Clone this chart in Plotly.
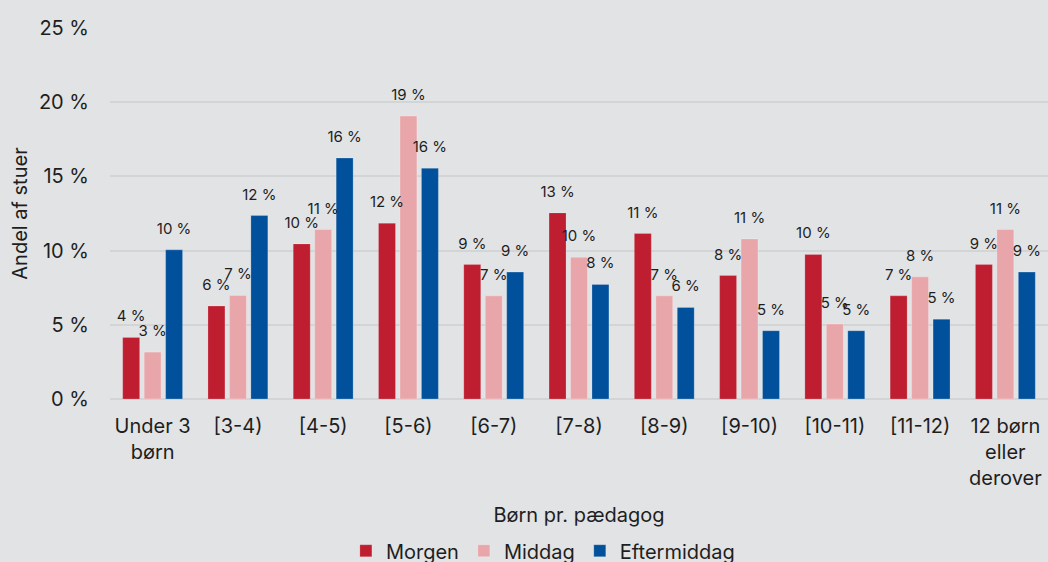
import plotly.graph_objects as go

categories = ["Under 3<br>børn", "[3-4)", "[4-5)", "[5-6)", "[6-7)", "[7-8)",
              "[8-9)", "[9-10)", "[10-11)", "[11-12)", "12 børn<br>eller<br>derover"]

morgen = [4.15, 6.26, 10.45, 11.84, 9.06, 12.54, 11.15, 8.32, 9.74, 6.95, 9.06]
middag = [3.16, 6.98, 11.42, 19.07, 6.95, 9.55, 6.95, 10.79, 5.05, 8.23, 11.42]
eftermiddag = [10.05, 12.36, 16.24, 15.55, 8.55, 7.72, 6.17, 4.60, 4.60, 5.38, 8.55]

y_ticks = [0, 5, 10, 15, 20, 25]
y_tick_labels = [f"{v} %" for v in y_ticks]

series = [
    ("Morgen", morgen, "#BE1E30", "rgba(255,255,255,0.18)"),
    ("Middag", middag, "#E8A6AB", "rgba(255,255,255,0.25)"),
    ("Eftermiddag", eftermiddag, "#00509B", "rgba(255,255,255,0.22)"),
]

FONT = "Inter, Roboto, sans-serif"
TEXT = "#1E1E1E"
BG = "#E2E3E5"
GRID = "#D3D4D6"

fig = go.Figure()

for name, vals, color, edge in series:
    fig.add_trace(go.Bar(
        name=name, x=categories, y=vals, offsetgroup=name,
        marker=dict(color=color, line=dict(color=edge, width=1)),
        hoverinfo="skip",
    ))

# value labels placed above each bar, grouped like the bars
for name, vals, color, edge in series:
    fig.add_trace(go.Scatter(
        x=categories, y=vals, offsetgroup=name, mode="markers+text",
        text=[f"{round(v)} %" for v in vals],
        textposition="top center",
        textfont=dict(family=FONT, size=15, color=TEXT),
        marker=dict(size=18, opacity=0),
        showlegend=False, hoverinfo="skip", cliponaxis=False,
    ))

fig.update_layout(
    width=1048, height=562,
    margin=dict(l=110, r=0, t=28, b=163, autoexpand=False),
    paper_bgcolor=BG, plot_bgcolor=BG,
    barmode="group", bargap=0.245, bargroupgap=0.21,
    scattermode="group", scattergap=0.245,
    font=dict(family=FONT, color=TEXT),
    showlegend=True,
    legend=dict(
        orientation="h", x=0.4615, xanchor="center",
        yref="container", y=0.02, yanchor="middle",
        font=dict(family=FONT, size=20, color=TEXT),
        itemwidth=30, traceorder="normal", bgcolor="rgba(0,0,0,0)",
    ),
)

fig.update_xaxes(
    type="category", showgrid=False, showline=False, zeroline=False,
    tickfont=dict(family=FONT, size=20, color=TEXT),
    ticks="", ticklabelstandoff=13,
    title=dict(text="Børn pr. pædagog", font=dict(family=FONT, size=20, color=TEXT), standoff=18),
    automargin=False,
)

fig.update_yaxes(
    range=[0, 25], tickmode="array", tickvals=y_ticks, ticktext=y_tick_labels,
    showgrid=True, gridcolor=GRID, gridwidth=2,
    zeroline=True, zerolinecolor=GRID, zerolinewidth=2, showline=False,
    tickfont=dict(family=FONT, size=20, color=TEXT),
    ticks="", ticklabelstandoff=20,
    title=dict(text="Andel af stuer", font=dict(family=FONT, size=20, color=TEXT), standoff=5),
    automargin=False,
)

fig.write_html("out.html")
